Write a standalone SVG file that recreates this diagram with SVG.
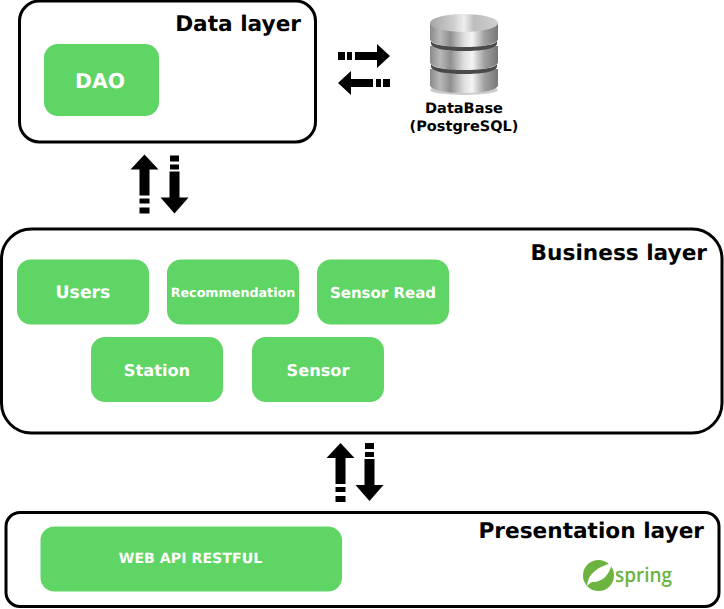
<svg xmlns="http://www.w3.org/2000/svg" width="724" height="609" viewBox="0 0 724 609">
<style>
text{font-family:"DejaVu Sans",sans-serif;font-weight:700;text-rendering:geometricPrecision}
.layer{fill:#fff;stroke:#000;stroke-width:3}
.box{fill:#5fd565}
.lt{fill:#000;font-size:21.650px;text-anchor:end}
.bt{fill:#fff;text-anchor:middle}
</style>
<defs>
<linearGradient id="m" x1="0" x2="1" y1="0" y2="0">
<stop offset="0" stop-color="#8a8a8a"/><stop offset=".15" stop-color="#b8b8b8"/><stop offset=".3" stop-color="#8f8f8f"/><stop offset=".5" stop-color="#dedede"/><stop offset=".62" stop-color="#f4f4f4"/><stop offset=".8" stop-color="#a0a0a0"/><stop offset="1" stop-color="#777"/>
</linearGradient>
<linearGradient id="t" x1="0" x2="1" y1="0" y2="0">
<stop offset="0" stop-color="#a5a5a5"/><stop offset=".35" stop-color="#cfcfcf"/><stop offset=".5" stop-color="#eee"/><stop offset=".65" stop-color="#bdbdbd"/><stop offset="1" stop-color="#d0d0d0"/>
</linearGradient>
<g id="up"><path d="M0 0L14 15H5V41H-5V15H-14Z"/><rect x="-5" y="44" width="10" height="5"/><rect x="-5" y="53" width="10" height="6"/></g>
<g id="down"><path d="M0 59L14 43H5V17H-5V43H-14Z"/><rect x="-4.500" y="1" width="9" height="6"/><rect x="-4.500" y="10" width="9" height="5"/></g>
<g id="right"><path d="M52 12L39 0V8H17V16H39V24Z"/><rect x="0" y="8" width="7" height="8"/><rect x="9" y="8" width="5" height="8"/></g>
</defs>
<rect width="724" height="609" fill="#fff"/>
<g id="connectors">
<use href="#right" x="338" y="44"/>
<use href="#right" transform="translate(390 71) scale(-1 1)"/>
<use href="#up" x="144.500" y="154.500"/>
<use href="#down" x="174.500" y="154.500"/>
<use href="#up" x="340.500" y="443"/>
<use href="#down" x="369.500" y="442"/>
</g>
<g id="data-layer">
<rect class="layer" x="19.500" y="1" width="296" height="141" rx="20"/>
<text class="lt" x="301" y="31">Data layer</text>
</g>
<g id="dao"><rect class="box" x="44" y="44" width="115" height="72" rx="14"/><text class="bt" x="100" y="88" font-size="20.400">DAO</text></g>
<g id="database">
<ellipse cx="464" cy="90" rx="34" ry="5" fill="#ccc"/>
<path d="M430 69V85C430 90 445 93 464 93S498 90 498 85V69Z" fill="url(#m)"/>
<path d="M430 46V62C430 67 445 70 464 70S498 67 498 62V46Z" fill="url(#m)"/>
<path d="M430 23V39C430 44 445 47 464 47S498 44 498 39V23Z" fill="url(#m)"/>
<ellipse cx="464" cy="23" rx="34" ry="9" fill="url(#t)"/>
<path d="M431 41C433 45 447 47 464 47S495 45 497 41V44C495 49 481 51 464 51S433 49 431 44Z" fill="#4a4a4a"/>
<path d="M431 64C433 68 447 70 464 70S495 68 497 64V67C495 72 481 74 464 74S433 72 431 67Z" fill="#4a4a4a"/>
<text x="464" y="113" font-size="14.500" text-anchor="middle">DataBase</text>
<text x="464" y="131" font-size="14.500" text-anchor="middle">(PostgreSQL)</text>
</g>
<g id="business-layer">
<rect class="layer" x="1.500" y="229" width="720.500" height="204" rx="30"/>
<text class="lt" x="707" y="260">Business layer</text>
</g>
<g id="users"><rect class="box" x="17" y="259.500" width="132" height="65" rx="14"/><text class="bt" x="83" y="298" font-size="17.300">Users</text></g>
<g id="recommendation"><rect class="box" x="167" y="259.500" width="132" height="65" rx="14"/><text class="bt" x="233" y="297" font-size="12.700">Recommendation</text></g>
<g id="sensor-read"><rect class="box" x="317" y="259.500" width="132" height="65" rx="14"/><text class="bt" x="383" y="298" font-size="15">Sensor Read</text></g>
<g id="station"><rect class="box" x="91" y="337" width="132" height="65" rx="14"/><text class="bt" x="157" y="376" font-size="16.200">Station</text></g>
<g id="sensor"><rect class="box" x="252" y="337" width="132" height="65" rx="14"/><text class="bt" x="318" y="376" font-size="16.200">Sensor</text></g>
<g id="presentation-layer">
<rect class="layer" x="6" y="512.500" width="713" height="94" rx="14"/>
<text class="lt" x="704" y="538">Presentation layer</text>
</g>
<g id="web-api"><rect class="box" x="40.500" y="526.500" width="301.500" height="65" rx="14"/><text class="bt" x="190.500" y="563" font-size="14.200">WEB API RESTFUL</text></g>
<g id="spring">
<circle cx="598.500" cy="575.500" r="15.500" fill="#6db33f"/>
<path d="M587 586C588 573 598 567 612 563C610 574 603 582 593 582C591 582 589 584 587 586Z" fill="#fff"/>
<text x="615" y="581.500" font-size="20.500" textLength="57" lengthAdjust="spacingAndGlyphs" fill="#6db33f" style="font-family:'Open Sans',sans-serif;font-weight:600">spring</text>
</g>
</svg>
